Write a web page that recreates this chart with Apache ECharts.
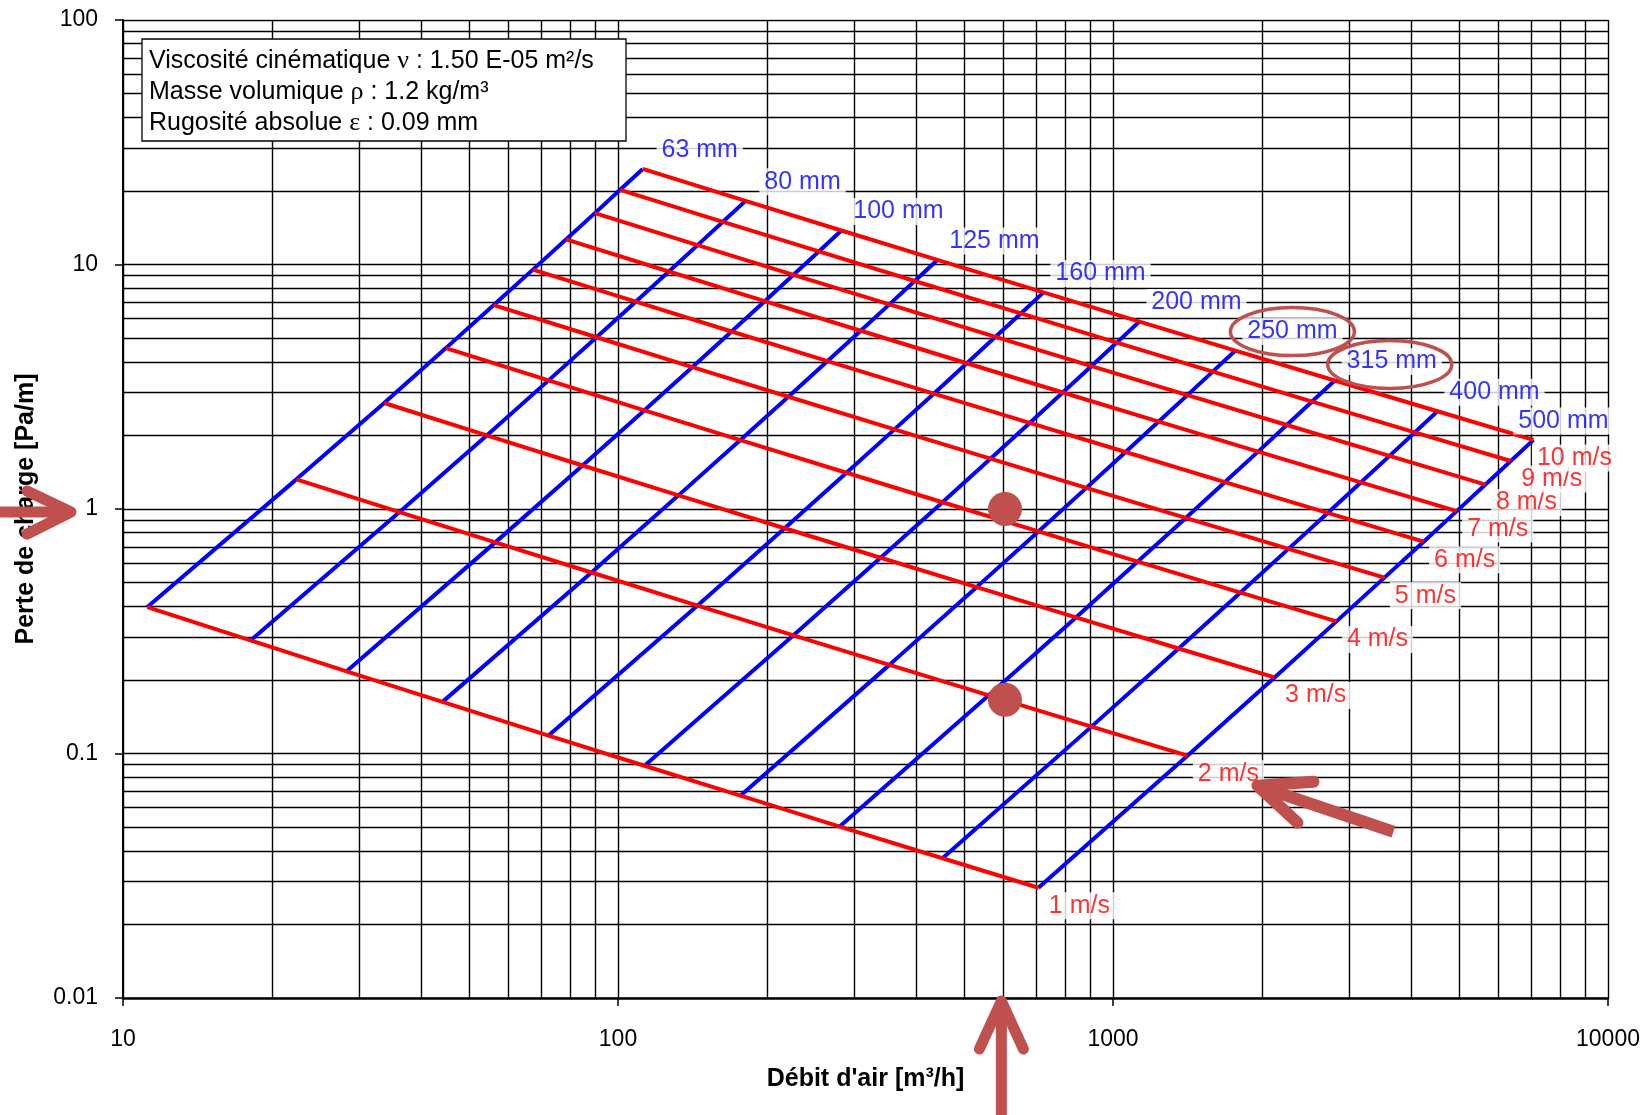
<!DOCTYPE html>
<html><head><meta charset="utf-8">
<script src="https://cdn.jsdelivr.net/npm/echarts@6/dist/echarts.min.js"></script>
<style>html,body{margin:0;padding:0;background:#fff}#c{width:1647px;height:1115px}</style>
</head><body><div id="c"></div>
<script>
// ---------- DATA ----------
const diameters = ['63 mm','80 mm','100 mm','125 mm','160 mm','200 mm','250 mm','315 mm','400 mm','500 mm'];
const velocities = ['1 m/s','2 m/s','3 m/s','4 m/s','5 m/s','6 m/s','7 m/s','8 m/s','9 m/s','10 m/s'];

// air flow [m3/h] per diameter, for 1..10 m/s
const flow_63  = [11.2, 22.4, 33.7, 44.9, 56.1, 67.3, 78.5, 89.8, 101.0, 112.2];
const flow_80  = [18.1, 36.2, 54.3, 72.4, 90.5, 108.6, 126.7, 144.8, 162.9, 181.0];
const flow_100 = [28.3, 56.5, 84.8, 113.1, 141.4, 169.6, 197.9, 226.2, 254.5, 282.7];
const flow_125 = [44.2, 88.4, 132.5, 176.7, 220.9, 265.1, 309.3, 353.4, 397.6, 441.8];
const flow_160 = [72.4, 144.8, 217.1, 289.5, 361.9, 434.3, 506.7, 579.1, 651.4, 723.8];
const flow_200 = [113.1, 226.2, 339.3, 452.4, 565.5, 678.6, 791.7, 904.8, 1017.9, 1131.0];
const flow_250 = [176.7, 353.4, 530.1, 706.9, 883.6, 1060.3, 1237.0, 1413.7, 1590.4, 1767.1];
const flow_315 = [280.5, 561.1, 841.6, 1122.1, 1402.6, 1683.2, 1963.7, 2244.2, 2524.8, 2805.3];
const flow_400 = [452.4, 904.8, 1357.2, 1809.6, 2262.0, 2714.3, 3166.7, 3619.1, 4071.5, 4523.9];
const flow_500 = [706.9, 1413.7, 2120.6, 2827.4, 3534.3, 4241.2, 4948.0, 5654.9, 6361.7, 7068.6];

// pressure loss [Pa/m] per diameter, for 1..10 m/s
const loss_63  = [0.397, 1.322, 2.713, 4.550, 6.824, 9.529, 12.66, 16.22, 20.20, 24.60];
const loss_80  = [0.2901, 0.9717, 1.999, 3.358, 5.041, 7.044, 9.364, 12.00, 14.95, 18.21];
const loss_100 = [0.2169, 0.7303, 1.506, 2.533, 3.806, 5.322, 7.077, 9.072, 11.31, 13.77];
const loss_125 = [0.1626, 0.5500, 1.137, 1.914, 2.878, 4.027, 5.358, 6.870, 8.563, 10.44];
const loss_160 = [0.1184, 0.4027, 0.8341, 1.407, 2.117, 2.963, 3.945, 5.060, 6.308, 7.689];
const loss_200 = [0.08913, 0.3044, 0.6317, 1.066, 1.606, 2.249, 2.995, 3.843, 4.793, 5.843];
const loss_250 = [0.06721, 0.2304, 0.4791, 0.8096, 1.220, 1.710, 2.278, 2.923, 3.646, 4.446];
const loss_315 = [0.05025, 0.1730, 0.3603, 0.6095, 0.9193, 1.289, 1.717, 2.205, 2.751, 3.355];
const loss_400 = [0.03728, 0.1288, 0.2688, 0.4552, 0.6870, 0.9635, 1.284, 1.649, 2.058, 2.511];
const loss_500 = [0.02825, 0.09794, 0.2047, 0.3470, 0.5240, 0.7352, 0.9803, 1.259, 1.572, 1.917];

// grid / tick values
const xGridValues = [10,20,30,40,50,60,70,80,90,100,200,300,400,500,600,700,800,900,1000,2000,3000,4000,5000,6000,7000,8000,9000,10000];
const yGridValues = [0.01,0.02,0.03,0.04,0.05,0.06,0.07,0.08,0.09,0.1,0.2,0.3,0.4,0.5,0.6,0.7,0.8,0.9,1,2,3,4,5,6,7,8,9,10,20,30,40,50,60,70,80,90,100];
const xTickLabels = [10, 100, 1000, 10000];
const yTickLabels = [0.01, 0.1, 1, 10, 100];

// highlighted reading (dots) and arrows
const markedFlow = [605, 605];
const markedLoss = [1.0, 0.166];
const arrowFlow = 595;
const arrowLoss = 1;

const infoLines = ['Viscosité cinématique {g|ν} : 1.50 E-05 m²/s', 'Masse volumique {g|ρ} : 1.2 kg/m³', 'Rugosité absolue {g|ε} : 0.09 mm'];

// ---------- BUILD ----------
const flows = [flow_63, flow_80, flow_100, flow_125, flow_160, flow_200, flow_250, flow_315, flow_400, flow_500];
const losses = [loss_63, loss_80, loss_100, loss_125, loss_160, loss_200, loss_250, loss_315, loss_400, loss_500];

const FONT = 'Liberation Sans, Arial, sans-serif';
const BLUE = '#0000FF', RED = '#FF0000', ANN = '#C0504D';

const gridSegments = [];
xGridValues.forEach(x => gridSegments.push({coords: [[x, yGridValues[0]], [x, yGridValues[yGridValues.length-1]]]}));
yGridValues.forEach(y => gridSegments.push({coords: [[xGridValues[0], y], [xGridValues[xGridValues.length-1], y]]}));

const series = [];
series.push({
  type: 'lines', coordinateSystem: 'cartesian2d', polyline: false, silent: true, z: 1,
  data: gridSegments, lineStyle: {color: '#000', width: 1.4, opacity: 1}, animation: false
});
diameters.forEach((d, i) => {
  series.push({
    type: 'line', name: d, z: 2, symbol: 'none', silent: true,
    data: velocities.map((v, j) => [flows[i][j], losses[i][j]]),
    lineStyle: {color: BLUE, width: 4}, itemStyle: {color: BLUE}
  });
});
velocities.forEach((v, j) => {
  series.push({
    type: 'line', name: v, z: 3, symbol: 'none', silent: true,
    data: diameters.map((d, i) => [flows[i][j], losses[i][j]]),
    lineStyle: {color: RED, width: 4}, itemStyle: {color: RED}
  });
});
const last = velocities.length - 1;
series.push({
  type: 'scatter', z: 4, symbolSize: 0, silent: true,
  data: diameters.map((d, i) => ({
    name: d, value: [flows[i][last], losses[i][last]],
    label: i === diameters.length - 1 ? {offset: [30, -19]} : undefined
  })),
  label: {show: true, formatter: '{b}', position: 'inside', offset: [57, -19], color: BLUE,
          fontSize: 25, fontFamily: FONT, backgroundColor: '#fff', padding: [1, 5]}
});
const lastD = diameters.length - 1;
series.push({
  type: 'scatter', z: 4, symbolSize: 0, silent: true,
  data: velocities.map((v, j) => ({name: v, value: [flows[lastD][j], losses[lastD][j]]})),
  label: {show: true, formatter: '{b}', position: 'inside', offset: [41, 18], color: RED,
          fontSize: 25, fontFamily: FONT, backgroundColor: '#fff', padding: [1, 5]}
});
series.push({
  type: 'scatter', z: 5, symbolSize: 34, silent: true,
  data: markedFlow.map((x, k) => [x, markedLoss[k]]),
  itemStyle: {color: ANN, opacity: 1}
});

const fmt = v => String(Number(Number(v).toPrecision(3)));

const chart = echarts.init(document.getElementById('c'), null, {renderer: 'canvas'});
chart.setOption({
  animation: false,
  backgroundColor: '#fff',
  grid: {left: 123, right: 39, top: 20, bottom: 117, containLabel: false},
  xAxis: {
    type: 'log', logBase: 10, min: xTickLabels[0], max: xTickLabels[xTickLabels.length-1],
    axisLine: {show: true, onZero: false, lineStyle: {color: '#000', width: 2.5}},
    axisTick: {show: true, inside: false, length: 8, lineStyle: {color: '#000', width: 1.5}},
    axisLabel: {color: '#000', fontSize: 23, fontFamily: FONT, margin: 30, formatter: fmt},
    splitLine: {show: false}, minorTick: {show: false},
    name: "Débit d'air [m³/h]", nameLocation: 'middle', nameGap: 69,
    nameTextStyle: {color: '#000', fontSize: 25, fontWeight: 'bold', fontFamily: FONT}
  },
  yAxis: {
    type: 'log', logBase: 10, min: yTickLabels[0], max: yTickLabels[yTickLabels.length-1],
    axisLine: {show: true, onZero: false, lineStyle: {color: '#000', width: 2}},
    axisTick: {show: true, inside: false, length: 8, lineStyle: {color: '#000', width: 1.5}},
    axisLabel: {color: '#000', fontSize: 23, fontFamily: FONT, margin: 25, formatter: fmt},
    splitLine: {show: false}, minorTick: {show: false},
    name: 'Perte de charge [Pa/m]', nameLocation: 'middle', nameGap: 84, nameRotate: 90,
    nameTextStyle: {color: '#000', fontSize: 25, fontWeight: 'bold', fontFamily: FONT}
  },
  series: series
});

// ---------- annotations (placed from data values) ----------
const px = (x, y) => chart.convertToPixel({gridIndex: 0}, [x, y]);
const yOne = px(xGridValues[0], arrowLoss)[1];
const xArr = px(arrowFlow, yGridValues[0]);
const bottomY = xArr[1];
const p2 = px(flows[lastD][1], losses[lastD][1]);
const p250 = px(flows[6][last], losses[6][last]);
const p315 = px(flows[7][last], losses[7][last]);

function arrow(tail, tip, a1, a2, w) {
  return [
    {type: 'polyline', z: 100, shape: {points: [tail, tip]}, style: {stroke: ANN, lineWidth: w, lineCap: 'butt', fill: null}},
    {type: 'polyline', z: 100, shape: {points: [a1, tip, a2]}, style: {stroke: ANN, lineWidth: w, lineCap: 'round', lineJoin: 'round', fill: null}}
  ];
}
const tipL = [71, yOne + 3];
const tipB = [xArr[0], bottomY + 3];
const tipD = [p2[0] + 70, p2[1] + 30];

const graphics = [
  {type: 'rect', z: 50, shape: {x: 142, y: 39, width: 484, height: 102}, style: {fill: '#fff', stroke: '#000', lineWidth: 1.3}},
  ...infoLines.map((t, k) => ({
    type: 'text', z: 51, x: 149, y: 61 + k * 31,
    style: {text: t, fill: '#000', fontSize: 25, fontFamily: FONT, verticalAlign: 'middle',
            rich: {g: {fontFamily: 'Liberation Serif, serif', fontSize: 26, fill: '#000'}}}
  })),
  {type: 'ellipse', z: 100, shape: {cx: p250[0] + 57, cy: p250[1] - 19, rx: 62, ry: 24},
   style: {fill: null, stroke: ANN, lineWidth: 3.5}},
  {type: 'ellipse', z: 100, shape: {cx: p315[0] + 55, cy: p315[1] - 16, rx: 62, ry: 24},
   style: {fill: null, stroke: ANN, lineWidth: 3.5}},
  ...arrow([0, tipL[1]], tipL, [27, tipL[1] - 21], [27, tipL[1] + 22], 11),
  ...arrow([tipB[0], 1115], tipB, [tipB[0] - 22, tipB[1] + 48], [tipB[0] + 22, tipB[1] + 48], 11),
  ...arrow([p2[0] + 206, p2[1] + 76], tipD, [p2[0] + 126, p2[1] + 26], [p2[0] + 110, p2[1] + 67], 12)
];
chart.setOption({graphic: graphics});
</script>
</body></html>
